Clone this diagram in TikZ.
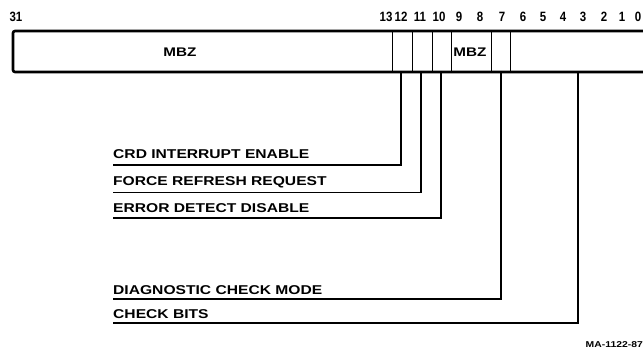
\documentclass[tikz,border=0pt]{standalone}
\usepackage{fontspec}
\setmainfont{Liberation Sans}
\newfontfamily\lblfont[FakeStretch=1.22]{Liberation Sans Bold}
\newfontfamily\numfont[FakeStretch=0.85]{Liberation Sans Bold}
\begin{document}
\begin{tikzpicture}[x=1pt,y=-1pt,
  frame/.style={line width=2.6pt},
  divider/.style={line width=1pt},
  leader/.style={line width=1.5pt},
  lbl/.style={anchor=base west,inner sep=0pt,font=\lblfont\fontsize{12.8}{14}\selectfont},
  bitnum/.style={anchor=base,inner sep=0pt,font=\numfont\fontsize{13.5}{15}\selectfont},
  fieldtxt/.style={anchor=center,inner sep=0pt,font=\lblfont\fontsize{12.5}{14}\selectfont}]
\useasboundingbox (0,0) rectangle (643,351);
% register frame (right end runs off the page)
\draw[frame,rounded corners=2pt] (650,31) -- (13,31) -- (13,72) -- (650,72);
% field dividers
\foreach \x in {392,412,432,451,491,510}
  \draw[divider] (\x,31) -- (\x,72);
% field labels
\node[fieldtxt] (mbzA) at (180,52) {MBZ};
\node[fieldtxt] (mbzB) at (470,52) {MBZ};
% bit numbers
\node[bitnum] (b31) at (16,21) {31};
\node[bitnum] (b13) at (386,21) {13};
\node[bitnum] (b12) at (401,21) {12};
\node[bitnum] (b11) at (420,21) {11};
\node[bitnum] (b10) at (439,21) {10};
\node[bitnum] (b9) at (459,21) {9};
\node[bitnum] (b8) at (480,21) {8};
\node[bitnum] (b7) at (502,21) {7};
\node[bitnum] (b6) at (523,21) {6};
\node[bitnum] (b5) at (543,21) {5};
\node[bitnum] (b4) at (563,21) {4};
\node[bitnum] (b3) at (583,21) {3};
\node[bitnum] (b2) at (604,21) {2};
\node[bitnum] (b1) at (622,21) {1};
\node[bitnum] (b0) at (638,21) {0};
% description labels
\node[lbl] (crd) at (113,158) {CRD INTERRUPT ENABLE};
\node[lbl] (frr) at (113,185) {FORCE REFRESH REQUEST};
\node[lbl] (edd) at (113,212) {ERROR DETECT DISABLE};
\node[lbl] (dcm) at (113,294) {DIAGNOSTIC CHECK MODE};
\node[lbl] (cb) at (113,318) {CHECK BITS};
% leader tops
\coordinate (t12) at (401,72);
\coordinate (t11) at (421,72);
\coordinate (t10) at (441,72);
\coordinate (t7) at (501,72);
\coordinate (t0) at (578,72);
% leaders with underlines
\draw[leader] (t12) |- (113,165);
\draw[leader] (t11) |- (113,192.5);
\draw[leader] (t10) |- (113,218);
\draw[leader] (t7) |- (113,299);
\draw[leader] (t0) |- (113,323);
% drawing number
\node[anchor=east,inner sep=0pt,font=\lblfont\fontsize{8.5}{10}\selectfont] (ma) at (643,345) {MA-1122-87};
\end{tikzpicture}
\end{document}
